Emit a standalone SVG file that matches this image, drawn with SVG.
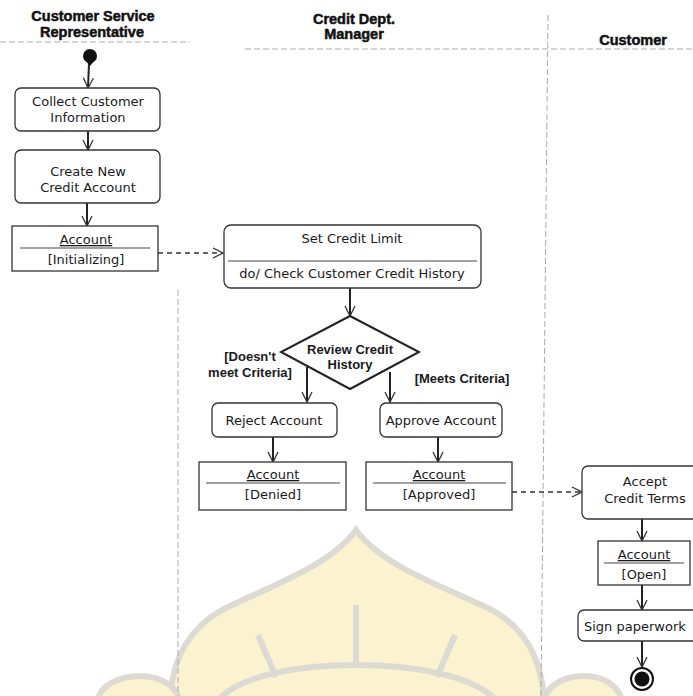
<svg xmlns="http://www.w3.org/2000/svg" width="693" height="696" viewBox="0 0 693 696">
<style>
.hdr{font-family:"Liberation Sans",Arial,sans-serif;font-weight:bold;font-size:14.5px;fill:#111;stroke:#111;stroke-width:0.5;text-anchor:middle}
.t{font-family:"DejaVu Sans","Liberation Sans",sans-serif;font-size:13px;fill:#1a1a1a;text-anchor:middle}
.ts{font-family:"DejaVu Sans","Liberation Sans",sans-serif;font-size:13px;fill:#1a1a1a;text-anchor:start}
.b{font-family:"Liberation Sans",Arial,sans-serif;font-weight:bold;font-size:13px;fill:#1a1a1a;text-anchor:middle}
.act{fill:#fff;stroke:#333;stroke-width:1.3}
.obj{fill:#fff;stroke:#333;stroke-width:1.3}
.sep{stroke:#444;stroke-width:1}
.flow{stroke:#222;stroke-width:2;fill:none}
.dash{stroke:#333;stroke-width:1.6;stroke-dasharray:5 4;fill:none}
.lane{stroke:#aaa;stroke-width:1;stroke-dasharray:6 3;fill:none}
.wm{fill:#fbf3cf;stroke:#dcdad2;stroke-width:6}
.wml{fill:none;stroke:#dcdad2;stroke-width:6}
</style>
<defs>
<marker id="arr" markerUnits="userSpaceOnUse" markerWidth="14" markerHeight="14" refX="11" refY="6" orient="auto">
<path d="M1,1 L11,6 L1,11" fill="none" stroke="#333" stroke-width="1.3"/>
</marker>
</defs>
<rect width="693" height="696" fill="#fff"/>
<g id="watermark">
<path class="wm" d="M356,530 C330,566 270,586 222,610 C186,630 172,662 170,700 L544,700 C542,662 528,630 492,610 C442,586 382,566 356,530 Z"/>
<path class="wm" d="M98,700 C100,685 120,676 140,676 C160,676 176,686 180,700 Z"/>
<path class="wm" d="M544,700 C548,684 566,676 584,676 C604,676 618,686 622,700 Z"/>
<path class="wml" d="M218,700 C240,675 300,665 356,665 C412,665 472,675 496,700"/>
<path class="wml" d="M356,605 L356,667 M258,635 L276,677 M455,635 L437,677"/>
</g>
<g id="lanes">
<line class="lane" x1="548" y1="15" x2="541" y2="696"/>
<line class="lane" x1="245" y1="49" x2="693" y2="49"/>
<line class="lane" x1="0" y1="42" x2="190" y2="42" stroke="#ccc"/>
<line class="lane" x1="178" y1="290" x2="178" y2="696" stroke="#ddd"/>
</g>
<g id="headers">
<text class="hdr" x="93" y="21">Customer Service</text>
<text class="hdr" x="92" y="37">Representative</text>
<text class="hdr" x="354" y="24">Credit Dept.</text>
<text class="hdr" x="354" y="39">Manager</text>
<text class="hdr" x="633" y="45">Customer</text>
</g>
<g id="connectors">
<path class="flow" d="M89,63 L88,88" marker-end="url(#arr)"/>
<path class="flow" d="M88,131 L88,150" marker-end="url(#arr)"/>
<path class="flow" d="M87,203 L87,226" marker-end="url(#arr)"/>
<path class="dash" d="M158,253 L223,253" marker-end="url(#arr)"/>
<path class="flow" d="M350,288 L350,316" marker-end="url(#arr)"/>
<path class="flow" d="M307,367 L307,402" marker-end="url(#arr)"/>
<path class="flow" d="M390,372 L390,402" marker-end="url(#arr)"/>
<path class="flow" d="M273,437 L273,462" marker-end="url(#arr)"/>
<path class="flow" d="M438,437 L438,462" marker-end="url(#arr)"/>
<path class="dash" d="M512,492 L582,492" marker-end="url(#arr)"/>
<path class="flow" d="M642,519 L642,541" marker-end="url(#arr)"/>
<path class="flow" d="M642,585 L642,610" marker-end="url(#arr)"/>
<path class="flow" d="M642,641 L642,667" marker-end="url(#arr)"/>
</g>
<g id="start">
<circle cx="90" cy="56" r="7" fill="#111"/>
<path d="M85,60 L90,66 L95,60 Z" fill="#111"/>
</g>
<g id="collect">
<rect class="act" x="15" y="88" width="145" height="43" rx="6"/>
<text class="t" x="88" y="106">Collect Customer</text>
<text class="t" x="88" y="122">Information</text>
</g>
<g id="create">
<rect class="act" x="15" y="150" width="145" height="53" rx="6"/>
<text class="t" x="88" y="176">Create New</text>
<text class="t" x="88" y="192">Credit Account</text>
</g>
<g id="acc-init">
<rect class="obj" x="12" y="226" width="146" height="45"/>
<text class="t" x="86" y="244" text-decoration="underline">Account</text>
<line class="sep" x1="20" y1="248" x2="150" y2="248"/>
<text class="t" x="86" y="264">[Initializing]</text>
</g>
<g id="setlimit">
<rect class="act" x="224" y="225" width="257" height="63" rx="7"/>
<text class="t" x="352" y="243">Set Credit Limit</text>
<line class="sep" x1="228" y1="261" x2="477" y2="261"/>
<text class="t" x="352" y="278">do/ Check Customer Credit History</text>
</g>
<g id="review">
<polygon points="350,316 419,352 350,389 281,352" fill="#fff" stroke="#222" stroke-width="2"/>
<text class="b" x="350" y="354" font-size="11.5">Review Credit</text>
<text class="b" x="350" y="369" font-size="11.5">History</text>
</g>
<g id="guards">
<text class="b" x="250" y="361">[Doesn't</text>
<text class="b" x="250" y="377">meet Criteria]</text>
<text class="b" x="462" y="383">[Meets Criteria]</text>
</g>
<g id="reject">
<rect class="act" x="212" y="403" width="125" height="34" rx="6"/>
<text class="t" x="274" y="425">Reject Account</text>
</g>
<g id="approve">
<rect class="act" x="380" y="403" width="122" height="34" rx="6"/>
<text class="t" x="441" y="425">Approve Account</text>
</g>
<g id="acc-denied">
<rect class="obj" x="199" y="462" width="147" height="48"/>
<text class="t" x="273" y="479" text-decoration="underline">Account</text>
<line class="sep" x1="206" y1="483" x2="340" y2="483"/>
<text class="t" x="273" y="499">[Denied]</text>
</g>
<g id="acc-approved">
<rect class="obj" x="366" y="462" width="146" height="48"/>
<text class="t" x="439" y="479" text-decoration="underline">Account</text>
<line class="sep" x1="373" y1="483" x2="506" y2="483"/>
<text class="t" x="439" y="499">[Approved]</text>
</g>
<g id="accept">
<rect class="act" x="582" y="466" width="120" height="53" rx="6"/>
<text class="t" x="645" y="486">Accept</text>
<text class="t" x="645" y="503">Credit Terms</text>
</g>
<g id="acc-open">
<rect class="obj" x="598" y="541" width="92" height="44"/>
<text class="t" x="644" y="559" text-decoration="underline">Account</text>
<line class="sep" x1="604" y1="563" x2="684" y2="563"/>
<text class="t" x="644" y="579">[Open]</text>
</g>
<g id="sign">
<rect class="act" x="578" y="610" width="124" height="31" rx="6"/>
<text class="ts" x="584" y="631">Sign paperwork</text>
</g>
<g id="end">
<circle cx="642" cy="679" r="11" fill="#fff" stroke="#111" stroke-width="2"/>
<circle cx="642" cy="679" r="7.5" fill="#111"/>
</g>
</svg>
